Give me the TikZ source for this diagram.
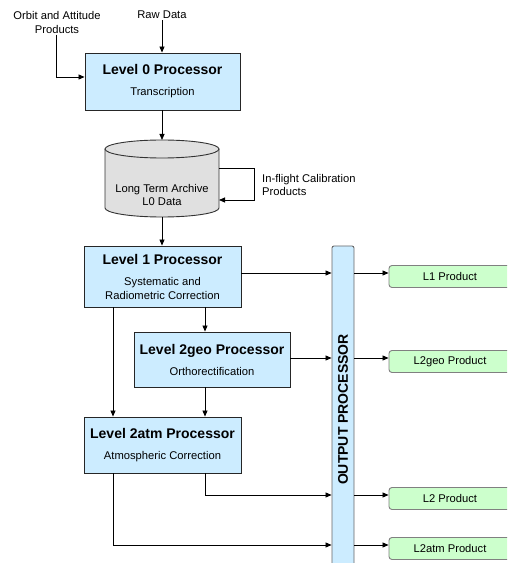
\documentclass[tikz,border=0pt]{standalone}
\usepackage{fontspec}
\setmainfont{Liberation Sans}
\usetikzlibrary{arrows.meta}
\definecolor{procblue}{HTML}{CCECFF}
\definecolor{prodgreen}{HTML}{CCFFCC}
\definecolor{cylgray}{HTML}{E0E0E0}
\newcommand{\bodyf}{\fontsize{11.2}{13.5}\selectfont}
\newcommand{\titlef}{\fontsize{14}{16}\selectfont\bfseries}
\begin{document}
\begin{tikzpicture}[x=1pt,y=1pt,
  >={Triangle[length=6pt,width=5pt]},
  proc/.style={draw=black!85, fill=procblue, line width=0.9pt, inner sep=0pt, align=center, font=\bodyf},
  prod/.style={draw=gray, fill=prodgreen, line width=0.9pt, rounded corners=3pt, minimum width=122pt, minimum height=22pt, inner sep=0pt, font=\bodyf},
  conn/.style={line width=0.8pt, ->},
  lbl/.style={font=\bodyf, align=center, inner sep=1pt}]
\useasboundingbox (0,0) rectangle (507,563);
\clip (0,0) rectangle (507,563);

% processors
\node[proc, minimum width=155pt, minimum height=57pt] (l0) at (162.5,481.5)
  {{\titlef Level 0 Processor}\\[7.5pt]Transcription};
\node[proc, minimum width=157pt, minimum height=61pt] (l1) at (162.5,286.5)
  {{\titlef Level 1 Processor}\\[8pt]Systematic and\\Radiometric Correction};
\node[proc, minimum width=156pt, minimum height=55pt] (l2geo) at (212,203.5)
  {{\titlef Level 2geo Processor}\\[7.5pt]Orthorectification};
\node[proc, minimum width=157pt, minimum height=56pt] (l2atm) at (162.5,118)
  {{\titlef Level 2atm Processor}\\[7.5pt]Atmospheric Correction};

% output processor
\node[draw=gray!80!black, fill=procblue, line width=0.9pt, rounded corners=2pt,
  minimum width=22pt, minimum height=327pt, inner sep=0pt] (op) at (343,153.5)
  {\rotatebox{90}{\fontsize{14}{16}\selectfont\bfseries OUTPUT PROCESSOR}};

% products
\node[prod] (p1) at (450,286.5) {L1 Product};
\node[prod] (p2) at (450,201.5) {L2geo Product};
\node[prod] (p3) at (450,64.5) {L2 Product};
\node[prod] (p4) at (450,14.5) {L2atm Product};

% inputs
\node[lbl] (raw) at (162,548) {Raw Data};
\node[lbl] (orbit) at (57,540.5) {Orbit and Attitude\\Products};

% archive cylinder
\fill[cylgray] (105,414) -- (105,355) arc[start angle=180, end angle=360, x radius=57pt, y radius=9pt]
  -- (219,414) arc[start angle=0, end angle=180, x radius=57pt, y radius=9pt] -- cycle;
\draw[line width=0.9pt, draw=black!80] (105,414) -- (105,355) arc[start angle=180, end angle=360, x radius=57pt, y radius=9pt] -- (219,414);
\draw[line width=0.9pt, draw=black!80] (162,414) ellipse [x radius=57pt, y radius=9pt];
\node[lbl] (arch) at (162,368) {Long Term Archive\\L0 Data};
\coordinate (cyltop) at (162,423);
\coordinate (cylbot) at (162,346);
\coordinate (calout) at (219,395);
\coordinate (calin) at (219,363);
\node[font=\bodyf, align=left, anchor=west, inner sep=1pt] (calib) at (261,378) {In-flight Calibration\\Products};

\coordinate (xa) at (113,0);
\coordinate (xb) at (205,0);

% connectors
\draw[conn] (raw.south) -- (raw.south |- l0.north);
\draw[conn] (orbit.south -| 56,0) |- ([yshift=4.5pt]l0.west);
\draw[conn] (l0.south -| cyltop) -- (cyltop);
\draw[conn] (calout) -- ++(35,0) |- (calin);
\draw[conn] (cylbot) -- (cylbot |- l1.north);
\draw[conn] (l1.south -| xb) -- (l2geo.north -| xb);
\draw[conn] (l1.south -| xa) -- (l2atm.north -| xa);
\draw[conn] (l2geo.south -| xb) -- (l2atm.north -| xb);
\draw[conn] ([yshift=3.5pt]p1.west -| l1.east) -- ([yshift=3.5pt]p1.west -| op.west);
\draw[conn] ([yshift=3.5pt]p2.west -| l2geo.east) -- ([yshift=3.5pt]p2.west -| op.west);
\draw[conn] (l2atm.south -| xb) |- ([yshift=3.5pt]p3.west -| op.west);
\draw[conn] (l2atm.south -| xa) |- ([yshift=3.5pt]p4.west -| op.west);
\draw[conn] ([yshift=3.5pt]p1.west -| op.east) -- ([yshift=3.5pt]p1.west);
\draw[conn] ([yshift=3.5pt]p2.west -| op.east) -- ([yshift=3.5pt]p2.west);
\draw[conn] ([yshift=3.5pt]p3.west -| op.east) -- ([yshift=3.5pt]p3.west);
\draw[conn] ([yshift=3.5pt]p4.west -| op.east) -- ([yshift=3.5pt]p4.west);
\end{tikzpicture}
\end{document}
